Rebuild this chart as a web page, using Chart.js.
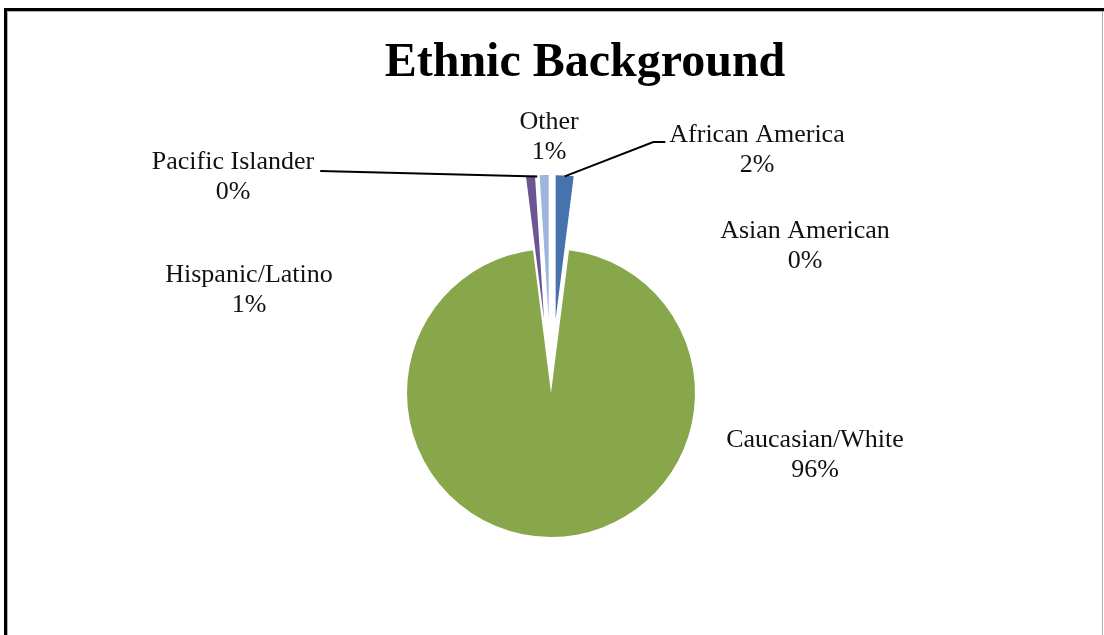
<!DOCTYPE html>
<html>
<head>
<meta charset="utf-8">
<script src="https://cdn.jsdelivr.net/npm/chart.js@4.4.0/dist/chart.umd.min.js"></script>
<style>
  html, body { margin: 0; padding: 0; background: #fff; }
  #wrap { width: 1104px; height: 635px; }
</style>
</head>
<body>
<div id="wrap"><canvas id="pieChart" width="1104" height="635"></canvas></div>
<script>
// data
const categories = ['African America', 'Asian American', 'Caucasian/White', 'Hispanic/Latino', 'Pacific Islander', 'Other'];
const shares = [2, 0, 96, 1, 0, 1];
const sliceColors = ['#4672AE', '#C0504D', '#88A64A', '#6B5593', '#4BACC6', '#9BB5DB'];

// styling / layout
const explodeBy = [74, 74, 0, 74, 74, 74];   // pixels each slice is pulled out
const pieRadius = 144;
const labelFont = '26px "Liberation Serif", "Times New Roman", serif';
const titleFont = 'bold 48px "Liberation Serif", "Times New Roman", serif';
// centre of the first text line of each data label
const labelSpots = [[757, 135], [805, 231], [815, 440], [249, 275], [233, 162], [549, 122]];

const total = shares.reduce((a, b) => a + b, 0);
const pctText = shares.map(v => Math.round(v / total * 100) + '%');

const piePlugin = {
    id: 'piePlugin',
    beforeDraw(chart) {
        const ctx = chart.ctx;
        ctx.save();
        ctx.fillStyle = '#fff';
        ctx.fillRect(0, 0, chart.width, chart.height);
        // frame round the chart
        ctx.fillStyle = '#000';
        ctx.fillRect(4, 8, chart.width - 4, 3);
        ctx.fillRect(4, 8, 3, chart.height - 8);
        ctx.fillStyle = '#b0b0b0';
        ctx.fillRect(7, 11, chart.width - 7, 1);
        ctx.fillRect(7, 11, 1, chart.height - 11);
        ctx.fillRect(chart.width - 2, 11, 1, chart.height - 11);
        ctx.restore();
    },
    afterDatasetUpdate(chart, args) {
        // pull the small slices out, the way the spreadsheet did
        args.meta.data.forEach((arc, i) => {
            const mid = (arc.startAngle + arc.endAngle) / 2;
            arc.x += Math.cos(mid) * explodeBy[i];
            arc.y += Math.sin(mid) * explodeBy[i];
        });
    },
    afterDatasetsDraw(chart) {
        const ctx = chart.ctx;
        const arcs = chart.getDatasetMeta(0).data;
        ctx.save();

        ctx.fillStyle = '#000';
        ctx.font = titleFont;
        ctx.textAlign = 'center';
        ctx.textBaseline = 'alphabetic';
        ctx.fillText('Ethnic Background', 585, 76);

        ctx.font = labelFont;
        ctx.textBaseline = 'middle';
        ctx.fillStyle = '#111';
        categories.forEach((name, i) => {
            const [x, y] = labelSpots[i];
            ctx.fillText(name, x, y);
            ctx.fillText(pctText[i], x, y + 30);
        });

        // leader lines
        const edgePoint = i => {
            const arc = arcs[i];
            const mid = (arc.startAngle + arc.endAngle) / 2;
            return [arc.x + Math.cos(mid) * arc.outerRadius, arc.y + Math.sin(mid) * arc.outerRadius];
        };
        ctx.strokeStyle = '#000';
        ctx.lineWidth = 2;

        const pi = categories.indexOf('Pacific Islander');
        const piW = ctx.measureText(categories[pi]).width;
        const [pex, pey] = edgePoint(pi);
        ctx.beginPath();
        ctx.moveTo(labelSpots[pi][0] + piW / 2 + 6, labelSpots[pi][1] + 9);
        ctx.lineTo(pex, pey + 1);
        ctx.stroke();

        const af = categories.indexOf('African America');
        const afW = ctx.measureText(categories[af]).width;
        const [aex, aey] = edgePoint(af);
        const ax = labelSpots[af][0] - afW / 2 - 4;
        const ay = labelSpots[af][1] + 7;
        ctx.beginPath();
        ctx.moveTo(ax, ay);
        ctx.lineTo(ax - 12, ay);
        ctx.lineTo(aex, aey + 1);
        ctx.stroke();

        ctx.restore();
    }
};

new Chart(document.getElementById('pieChart'), {
    type: 'pie',
    data: {
        labels: categories,
        datasets: [{
            data: shares,
            backgroundColor: sliceColors,
            borderWidth: 0,
            radius: pieRadius
        }]
    },
    options: {
        responsive: false,
        animation: false,
        devicePixelRatio: 1,
        layout: { padding: { left: 300, right: 302, top: 200, bottom: 49 } },
        plugins: {
            legend: { display: false },
            tooltip: { enabled: false },
            title: { display: false }
        }
    },
    plugins: [piePlugin]
});
</script>
</body>
</html>
